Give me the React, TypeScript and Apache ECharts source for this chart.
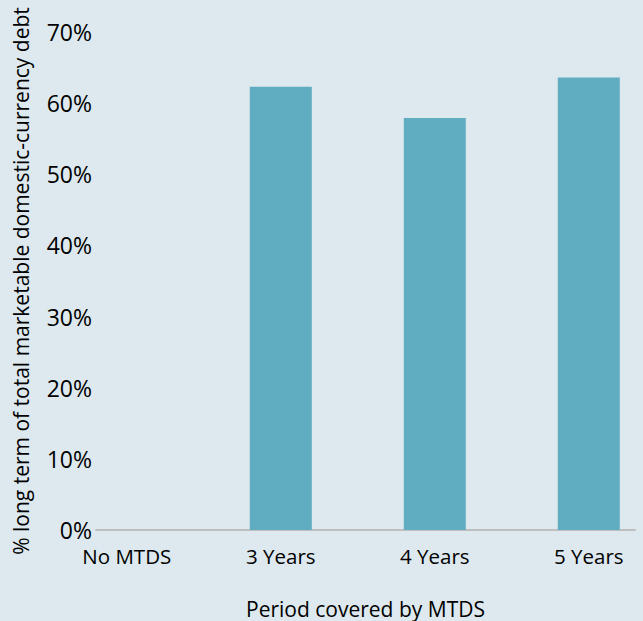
import React, { useEffect, useRef } from "react";
import * as echarts from "echarts";

const categories = ["No MTDS", "3 Years", "4 Years", "5 Years"];
const shareLongTerm = [0, 62.3, 57.9, 63.6];
const yTicks = [0, 10, 20, 30, 40, 50, 60, 70];
const yAxisTitle = "% long term of total marketable domestic-currency debt";
const xAxisTitle = "Period covered by MTDS";

const FONT = "'Open Sans', 'Noto Sans', sans-serif";

export default function App() {
  const ref = useRef<HTMLDivElement>(null);

  useEffect(() => {
    if (!ref.current) return;
    const chart = echarts.init(ref.current, undefined, { renderer: "svg" });
    chart.setOption({
      animation: false,
      backgroundColor: "#dde9ee",
      textStyle: { fontFamily: FONT, color: "#000" },
      grid: {
        left: 96,
        right: 8,
        top: 32,
        bottom: 91,
        containLabel: false,
        outerBoundsMode: "none",
      },
      xAxis: {
        type: "value",
        min: -0.2,
        max: 3.3,
        name: xAxisTitle,
        nameLocation: "middle",
        nameGap: 68,
        nameTextStyle: { fontSize: 21, fontFamily: FONT, color: "#000" },
        splitLine: { show: false },
        axisTick: { show: false },
        axisLine: { show: true, lineStyle: { color: "#bfbfbf", width: 2 } },
        axisLabel: {
          customValues: categories.map((_, i) => i),
          formatter: (v: number) => categories[Math.round(v)] ?? "",
          fontSize: 20.5,
          fontFamily: FONT,
          color: "#000",
          margin: 15,
        },
      },
      yAxis: {
        type: "value",
        min: yTicks[0],
        max: yTicks[yTicks.length - 1],
        interval: 10,
        name: yAxisTitle,
        nameLocation: "middle",
        nameGap: 65,
        nameTextStyle: { fontSize: 21, fontFamily: FONT, color: "#000" },
        splitLine: { show: false },
        axisLine: { show: false },
        axisTick: { show: false },
        axisLabel: {
          formatter: (v: number) => `${v}%`,
          fontSize: 23,
          fontFamily: FONT,
          color: "#000",
          margin: 4,
        },
      },
      series: [
        {
          type: "bar",
          data: shareLongTerm.map((v, i) => [i, v]),
          barWidth: 62,
          itemStyle: { color: "#60adc1" },
        },
      ],
    });
    return () => chart.dispose();
  }, []);

  return <div ref={ref} style={{ width: 643, height: 621, position: "absolute", left: 0, top: 0 }} />;
}
